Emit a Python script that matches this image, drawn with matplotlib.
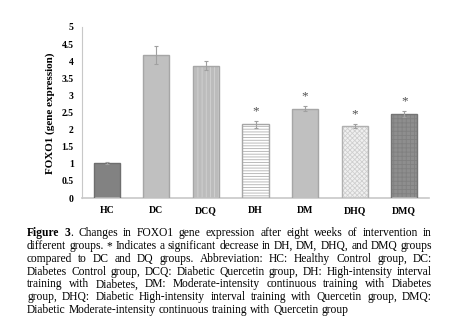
import numpy as np
import matplotlib
matplotlib.use("Agg")
import matplotlib.pyplot as plt

groups = ["HC", "DC", "DCQ", "DH", "DM", "DHQ", "DMQ"]
foxo1 = [1.03, 4.18, 3.87, 2.15, 2.61, 2.10, 2.46]
sem = [0.03, 0.27, 0.13, 0.10, 0.08, 0.06, 0.08]
significant = [False, False, False, True, True, True, True]

caption_lines = [
    "Figure 3. Changes in FOXO1 gene expression after eight weeks of intervention in",
    "different groups. * Indicates a significant decrease in DH, DM, DHQ, and DMQ groups",
    "compared to DC and DQ groups. Abbreviation: HC: Healthy Control group, DC:",
    "Diabetes Control group, DCQ: Diabetic Quercetin group, DH: High-intensity interval",
    "training with Diabetes, DM: Moderate-intensity continuous training with Diabetes",
    "group, DHQ: Diabetic High-intensity interval training with Quercetin group, DMQ:",
    "Diabetic Moderate-intensity continuous training with Quercetin group",
]

# fill, hatch, hatch colour, outline for each bar
bar_style = [
    ("#828282", None, None, "#6e6e6e"),
    ("#c0c0c0", None, None, "#a6a6a6"),
    ("#bcbcbc", "||||", "#d2d2d2", "#a6a6a6"),
    ("#ffffff", "------", "#b0b0b0", "#a6a6a6"),
    ("#c0c0c0", None, None, "#a6a6a6"),
    ("#f0f0f0", "xxxxxxx", "#cfcfcf", "#b0b0b0"),
    ("#8e8e8e", "++++", "#808080", "#747474"),
]

plt.rcParams["font.family"] = ["Liberation Serif", "DejaVu Serif"]
plt.rcParams["hatch.linewidth"] = 0.6

W, H = 463, 334
fig = plt.figure(figsize=(W / 100, H / 100), dpi=100)
ax = fig.add_axes([82 / W, 1 - 198 / H, 347 / W, 171 / H])

x = np.arange(len(groups))
for i, (fc, hatch, hc, ec) in enumerate(bar_style):
    if hatch:
        ax.bar(x[i], foxo1[i], width=0.53, color=fc, edgecolor=hc, hatch=hatch, linewidth=0, zorder=2)
    else:
        ax.bar(x[i], foxo1[i], width=0.53, color=fc, linewidth=0, zorder=2)
    ax.bar(x[i], foxo1[i], width=0.53, fill=False, edgecolor=ec, linewidth=1.0, zorder=3)

ax.errorbar(x, foxo1, yerr=sem, fmt="none", ecolor="#a0a0a0", elinewidth=0.8,
            capsize=1.5, capthick=0.8, zorder=4)

for i in range(len(groups)):
    if significant[i]:
        ax.text(x[i], foxo1[i] + sem[i] + 0.12, "*", ha="center", va="bottom",
                fontsize=9.5, color="#505050")

ax.set_xlim(-0.5, len(groups) - 0.5)
ax.set_ylim(0, 5)
ax.set_yticks(np.arange(0, 5.01, 0.5))
ax.set_yticklabels(["0", "0.5", "1", "1.5", "2", "2.5", "3", "3.5", "4", "4.5", "5"])
ax.set_xticks(x)
ax.set_xticklabels([])
ax.tick_params(length=0, labelsize=7, pad=6)
for lbl in ax.get_yticklabels():
    lbl.set_fontweight("bold")

# group names on a shared baseline below the axis
xlab_tf = ax.get_xaxis_transform()
for xi, g in zip(x, groups):
    ax.text(xi, -15 / 171, g, transform=xlab_tf, ha="center", va="baseline",
            fontsize=7, fontweight="bold")

for s in ["top", "right"]:
    ax.spines[s].set_visible(False)
ax.spines["left"].set_color("#c8c8c8")
ax.spines["bottom"].set_color("#c8c8c8")
ax.spines["left"].set_linewidth(0.8)
ax.spines["bottom"].set_linewidth(1.2)

fig.text(50 / W, 1 - 113 / H, "FOXO1 (gene expression)", rotation=90, ha="center",
         va="center", fontsize=8, fontweight="bold")

# justified caption below the chart
renderer = fig.canvas.get_renderer()
left, right = 27, 432
y0, step = 236, 12.85

# size the font so the tightest line fills the column with normal spacing
probe = fig.text(0, 0, caption_lines[1], fontsize=10)
fs = 10 * (right - left) / probe.get_window_extent(renderer).width
probe.remove()

for li, line in enumerate(caption_lines):
    words = line.split(" ")
    ypix = y0 + li * step
    arts = []
    for wi, w in enumerate(words):
        if li == 0 and wi == 0:
            arts.append([fig.text(0, 0, w, fontsize=fs, fontweight="bold", va="baseline")])
        elif li == 0 and wi == 1:
            arts.append([fig.text(0, 0, "3", fontsize=fs, fontweight="bold", va="baseline"),
                         fig.text(0, 0, ".", fontsize=fs, va="baseline")])
        else:
            arts.append([fig.text(0, 0, w, fontsize=fs, va="baseline")])
    widths = [[a.get_window_extent(renderer).width for a in grp] for grp in arts]
    total = sum(sum(wd) for wd in widths)
    if li < len(caption_lines) - 1:
        gap = (right - left - total) / (len(words) - 1)
    else:
        sp = fig.text(0, 0, "a a", fontsize=fs)
        sp2 = fig.text(0, 0, "aa", fontsize=fs)
        gap = sp.get_window_extent(renderer).width - sp2.get_window_extent(renderer).width
        sp.remove()
        sp2.remove()
    xpix = left
    for grp, wds in zip(arts, widths):
        xx = xpix
        for a, wd in zip(grp, wds):
            a.set_position((xx / W, 1 - ypix / H))
            xx += wd
        xpix += sum(wds) + gap

fig.savefig("out.png", dpi=100)
